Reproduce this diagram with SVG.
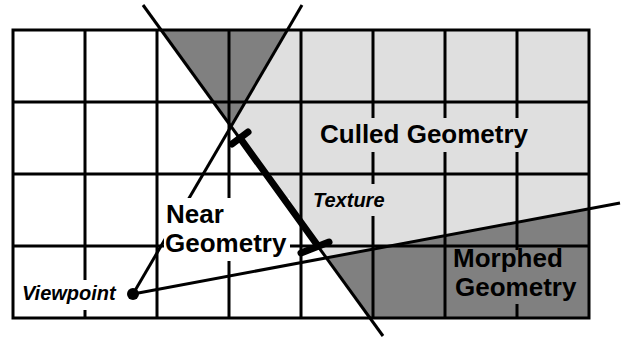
<svg xmlns="http://www.w3.org/2000/svg" width="624" height="343" viewBox="0 0 624 343">
<style>
.grid{stroke:#000;stroke-width:3;fill:none}
.ln{stroke:#000;stroke-width:3;fill:none}
.lbl{font-family:"Liberation Sans",Arial,sans-serif;font-weight:bold;font-size:26px;fill:#000}
.it{font-family:"Liberation Sans",Arial,sans-serif;font-weight:bold;font-style:italic;font-size:20px;fill:#000}
.light{fill:#dfdfdf}
.dark{fill:#808080}
</style>
<rect x="0" y="0" width="624" height="343" fill="#fff"/>
<g id="regions">
<polygon class="light" points="287,30 231,126 326,258 589,209 589,30"/>
<polygon class="dark" points="161,30 287,30 231,126"/>
<polygon class="dark" points="326,258 589,209 589,318 370,318"/>
</g>
<g id="grid" class="grid">
<rect x="13" y="30" width="576" height="288"/>
<path d="M85,30V318M157,30V318M229,30V318M301,30V318M373,30V318M445,30V318M517,30V318M13,102H589M13,174H589M13,246H589"/>
</g>
<g id="connectors" class="ln">
<line x1="143" y1="5" x2="383" y2="336"/>
<line x1="302" y1="5" x2="133" y2="294"/>
<line x1="133" y1="294" x2="620" y2="203"/>
</g>
<g id="culled">
<rect x="316" y="118" width="219" height="34" class="light"/>
<text class="lbl" x="320" y="143">Culled Geometry</text>
</g>
<g id="near">
<rect x="164" y="198" width="126" height="63" fill="#fff"/>
<text class="lbl" x="166" y="223">Near</text>
<text class="lbl" x="165" y="252">Geometry</text>
</g>
<g id="morphed">
<rect x="450" y="250" width="130" height="54" class="dark"/>
<text class="lbl" x="453" y="267">Morphed</text>
<text class="lbl" x="455" y="296">Geometry</text>
</g>
<g id="texture">
<rect x="310" y="184" width="78" height="32" class="light"/>
<text class="it" x="313" y="207">Texture</text>
<g stroke="#000" stroke-width="7" stroke-linecap="round">
<line x1="240" y1="138" x2="318" y2="246"/>
<line x1="232" y1="144" x2="248" y2="132"/>
<line x1="301" y1="253" x2="329" y2="242"/>
</g>
</g>
<g id="viewpoint">
<rect x="20" y="280" width="106" height="30" fill="#fff"/>
<text class="it" x="22" y="300" font-size="21">Viewpoint</text>
<circle cx="133" cy="294" r="6" fill="#000"/>
</g>
</svg>
